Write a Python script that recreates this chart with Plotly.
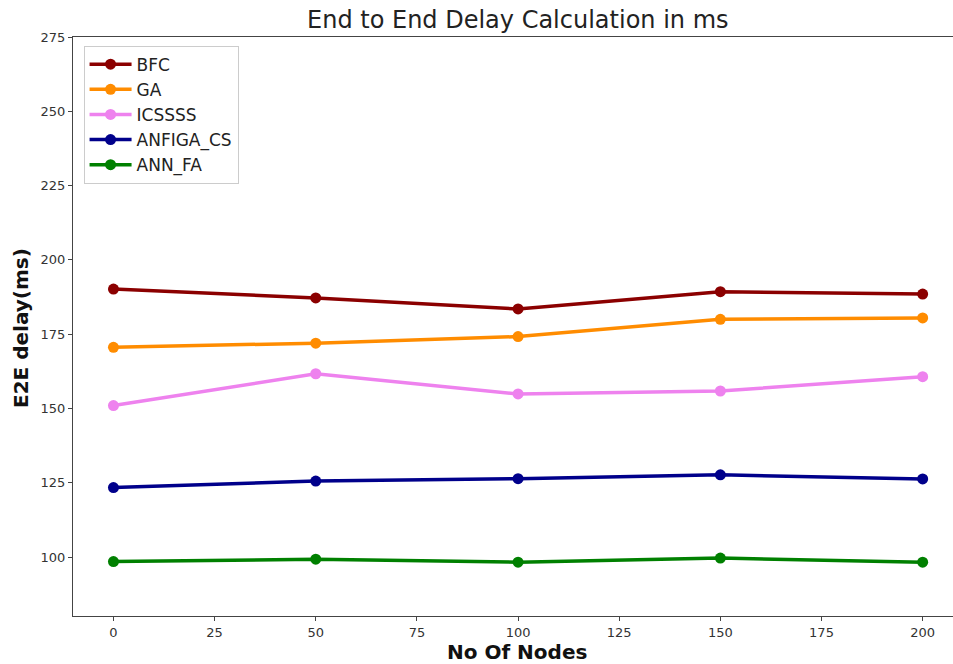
import plotly.graph_objects as go

nodes = [0, 50, 100, 150, 200]
bfc = [190.2, 187.2, 183.5, 189.3, 188.5]
ga = [170.6, 172.0, 174.2, 180.0, 180.5]
icssss = [151.0, 161.7, 154.9, 155.9, 160.7]
anfiga_cs = [123.4, 125.6, 126.4, 127.7, 126.3]
ann_fa = [98.5, 99.3, 98.3, 99.7, 98.3]

series = [
    ("BFC", bfc, "#8B0000"),
    ("GA", ga, "#FF8C00"),
    ("ICSSSS", icssss, "#EE82EE"),
    ("ANFIGA_CS", anfiga_cs, "#00008B"),
    ("ANN_FA", ann_fa, "#008000"),
]
x_ticks = [0, 25, 50, 75, 100, 125, 150, 175, 200]
y_ticks = [100, 125, 150, 175, 200, 225, 250, 275]

fig = go.Figure()
for name, vals, col in series:
    fig.add_trace(go.Scatter(
        x=nodes, y=vals, name=name, mode="lines+markers",
        line=dict(color=col, width=3.5),
        marker=dict(color=col, size=11),
    ))

font_family = "DejaVu Sans"
W, H = 953, 664
L, R, T, B = 73, 0, 37, 48
fig.update_layout(
    width=W, height=H,
    margin=dict(l=L, r=R, t=T, b=B, autoexpand=False),
    paper_bgcolor="white", plot_bgcolor="white",
    font=dict(family=font_family, color="#333333"),
    xaxis=dict(range=[-10, 207.5], tickvals=x_ticks, showgrid=False, zeroline=False,
               showline=True, linecolor="#444444", linewidth=1.2, mirror=True,
               ticks="outside", ticklen=4, tickcolor="#444444", automargin=False,
               tickfont=dict(size=13, color="#333333")),
    yaxis=dict(range=[80.2, 275], tickvals=y_ticks, showgrid=False, zeroline=False,
               showline=True, linecolor="#444444", linewidth=1.2, mirror=False,
               ticks="outside", ticklen=4, tickcolor="#444444", automargin=False,
               tickfont=dict(size=13, color="#333333")),
    legend=dict(x=0.012, y=0.985, xanchor="left", yanchor="top",
                bgcolor="rgba(255,255,255,0.9)", bordercolor="#cccccc", borderwidth=1,
                font=dict(size=17, color="#222222", family=font_family),
                tracegroupgap=0, itemwidth=42),
    showlegend=True,
)

pw = W - L - R
ph = H - T - B
def px(xp):
    return (xp - L) / pw
def py(yp):
    return (H - B - yp) / ph

fig.add_annotation(text="End to End Delay Calculation in ms", xref="paper", yref="paper",
                   x=px(518), y=py(20), showarrow=False, xanchor="center", yanchor="middle",
                   font=dict(size=24, color="#222222", family=font_family))
fig.add_annotation(text="<b>No Of Nodes</b>", xref="paper", yref="paper",
                   x=px(517), y=py(652), showarrow=False, xanchor="center", yanchor="middle",
                   font=dict(size=20, color="#111111", family=font_family))
fig.add_annotation(text="<b>E2E delay(ms)</b>", xref="paper", yref="paper",
                   x=px(21), y=py(328), showarrow=False, xanchor="center", yanchor="middle",
                   textangle=-90,
                   font=dict(size=20, color="#111111", family=font_family))

fig.write_html("out.html", config={"displayModeBar": False},
               post_script="document.body.style.margin='0';document.body.style.overflow='hidden';")
